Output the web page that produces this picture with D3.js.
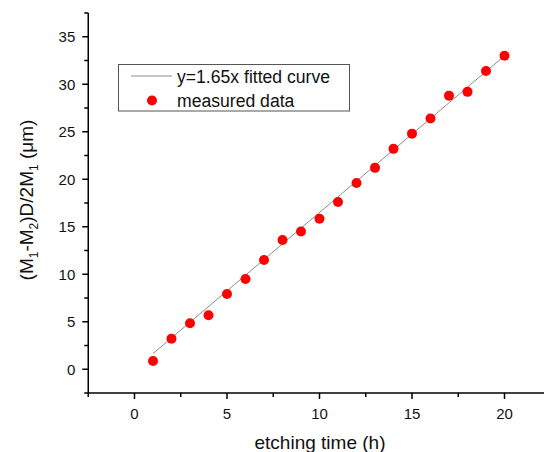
<!DOCTYPE html>
<html>
<head>
<meta charset="utf-8">
<script src="https://cdn.jsdelivr.net/npm/d3@7"></script>
<style>
  html, body { margin: 0; padding: 0; background: #fff; }
  svg { display: block; font-family: Arial, "Liberation Sans", sans-serif; }
</style>
</head>
<body>
<svg id="chart" width="544" height="452"></svg>
<script>
// Etching time (h)
const hours = [1, 2, 3, 4, 5, 6, 7, 8, 9, 10, 11, 12, 13, 14, 15, 16, 17, 18, 19, 20];
// Measured (M1-M2)D/2M1 in µm
const measured = [0.87, 3.22, 4.84, 5.68, 7.93, 9.5, 11.5, 13.6, 14.5, 15.85,
                  17.6, 19.6, 21.2, 23.2, 24.8, 26.4, 28.8, 29.2, 31.4, 33.0];
// Linear fit slope
const slope = 1.65;
const fitRange = [1, 20];
const xTicks = [0, 5, 10, 15, 20];
const yTicks = [0, 5, 10, 15, 20, 25, 30, 35];
const legendLabels = ["y=1.65x fitted curve", "measured data"];

const svg = d3.select("#chart");

const x = d3.scaleLinear().domain([-2.5, 22.5]).range([88.25, 550.75]);
const y = d3.scaleLinear().domain([-2.5, 37.5]).range([393, 13]);

// Axes: major ticks labelled, minor ticks halfway
function drawAxisX() {
  const g = svg.append("g").attr("transform", `translate(0,${y.range()[0]})`);
  g.append("line").attr("x1", x.range()[0]).attr("x2", 544)
    .attr("stroke", "#000").attr("stroke-width", 1.5);
  const minors = d3.range(-2.5, 22.6, 5);
  g.selectAll(".mn").data(minors).join("line")
    .attr("x1", d => x(d)).attr("x2", d => x(d)).attr("y1", 0).attr("y2", 4)
    .attr("stroke", "#000").attr("stroke-width", 1.5);
  g.selectAll(".mj").data(xTicks).join("line")
    .attr("x1", d => x(d)).attr("x2", d => x(d)).attr("y1", 0).attr("y2", 6)
    .attr("stroke", "#000").attr("stroke-width", 1.5);
  g.selectAll("text").data(xTicks).join("text")
    .attr("x", d => x(d)).attr("y", 25.5)
    .attr("text-anchor", "middle").attr("font-size", 15).attr("fill", "#111")
    .text(d => d);
}

function drawAxisY() {
  const g = svg.append("g").attr("transform", `translate(${x.range()[0]},0)`);
  g.append("line").attr("y1", y.range()[0]).attr("y2", y.range()[1])
    .attr("stroke", "#000").attr("stroke-width", 1.5);
  const minors = d3.range(-2.5, 37.6, 5);
  g.selectAll(".mn").data(minors).join("line")
    .attr("y1", d => y(d)).attr("y2", d => y(d)).attr("x1", 0).attr("x2", -4)
    .attr("stroke", "#000").attr("stroke-width", 1.5);
  g.selectAll(".mj").data(yTicks).join("line")
    .attr("y1", d => y(d)).attr("y2", d => y(d)).attr("x1", 0).attr("x2", -6)
    .attr("stroke", "#000").attr("stroke-width", 1.5);
  g.selectAll("text").data(yTicks).join("text")
    .attr("x", -13).attr("y", d => y(d) + 5.5)
    .attr("text-anchor", "end").attr("font-size", 15).attr("fill", "#111")
    .text(d => d);
}

drawAxisX();
drawAxisY();

// Fitted line y = slope * x
svg.append("line")
  .attr("x1", x(fitRange[0])).attr("y1", y(slope * fitRange[0]))
  .attr("x2", x(fitRange[1])).attr("y2", y(slope * fitRange[1]))
  .attr("stroke", "#8c8c8c").attr("stroke-width", 1);

// Measured points
svg.append("g").selectAll("circle")
  .data(hours.map((h, i) => [h, measured[i]]))
  .join("circle")
  .attr("cx", d => x(d[0])).attr("cy", d => y(d[1]))
  .attr("r", 5).attr("fill", "#ff0000");

// Axis titles
svg.append("text")
  .attr("x", 320).attr("y", 449)
  .attr("text-anchor", "middle").attr("font-size", 19).attr("fill", "#111")
  .text("etching time (h)");

const yt = svg.append("text")
  .attr("transform", "translate(33,200) rotate(-90)")
  .attr("text-anchor", "middle").attr("font-size", 19).attr("fill", "#111");
yt.append("tspan").text("(M");
yt.append("tspan").attr("font-size", 12).attr("dy", 5).text("1");
yt.append("tspan").attr("dy", -5).text("-M");
yt.append("tspan").attr("font-size", 12).attr("dy", 5).text("2");
yt.append("tspan").attr("dy", -5).text(")D/2M");
yt.append("tspan").attr("font-size", 12).attr("dy", 5).text("1");
yt.append("tspan").attr("dy", -5).text(" (\u03BCm)");

// Legend
const lg = svg.append("g");
lg.append("rect").attr("x", 118.5).attr("y", 64.5).attr("width", 231).attr("height", 46.5)
  .attr("fill", "#fff").attr("stroke", "#555").attr("stroke-width", 1);
lg.append("line").attr("x1", 131).attr("x2", 172).attr("y1", 76).attr("y2", 76)
  .attr("stroke", "#8c8c8c").attr("stroke-width", 1);
lg.append("circle").attr("cx", 152).attr("cy", 100.5).attr("r", 5).attr("fill", "#ff0000");
lg.selectAll("text").data(legendLabels).join("text")
  .attr("x", 177).attr("y", (d, i) => 82.5 + i * 24)
  .attr("font-size", 17.6).attr("fill", "#111")
  .text(d => d);
</script>
</body>
</html>
